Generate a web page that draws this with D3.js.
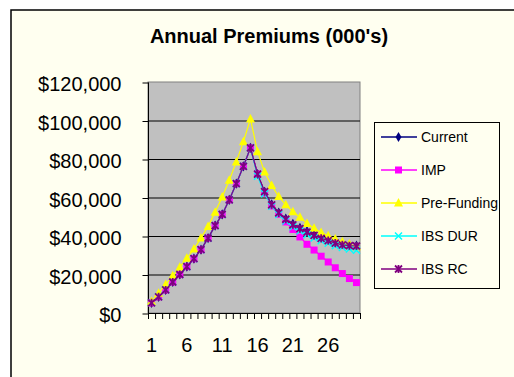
<!DOCTYPE html>
<html>
<head>
<meta charset="utf-8">
<script src="https://d3js.org/d3.v7.min.js"></script>
<style>
body { margin: 0; background: #fff; }
svg { display: block; font-family: "Liberation Sans", Arial, sans-serif; }
</style>
</head>
<body>
<svg id="chart" width="514" height="377"></svg>
<script>
// years 1..30
var categories = d3.range(1, 31);
var xLabels = [1, 6, 11, 16, 21, 26];
var yTicks = [0, 20000, 40000, 60000, 80000, 100000, 120000];

var current = [5300, 8400, 12000, 16100, 20000, 24100, 28200, 32900, 38900, 45400,
	51200, 58800, 67200, 76200, 85800, 72200, 63000, 56400, 52200, 49000,
	46300, 44300, 42500, 40800, 39200, 38000, 36600, 35700, 35200, 35000];
var imp = [5300, 8400, 12000, 16100, 20000, 24100, 28200, 32900, 38900, 45400,
	51200, 58800, 67200, 76200, 85800, 72200, 62300, 55600, 51300, 47300,
	43400, 39500, 35700, 32700, 29500, 26500, 23500, 20500, 17900, 15800];
var preFunding = [6000, 10300, 14800, 19300, 23800, 28500, 33200, 39000, 45000, 52400,
	60300, 69000, 78500, 89000, 100800, 83800, 73200, 66200, 60500, 56200,
	52600, 49700, 46500, 44000, 41800, 40100, 38400, 37000, 35800, 34400];
var ibsDur = [5300, 8400, 12000, 16100, 20000, 24100, 28200, 32900, 38900, 45400,
	51200, 58800, 67200, 76200, 85800, 71000, 62000, 55500, 51200, 47800,
	44800, 42600, 40700, 39000, 37500, 36200, 35000, 34000, 33200, 32600];
var ibsRc = [5300, 8400, 12000, 16100, 20000, 24100, 28200, 32900, 38900, 45400,
	51200, 58800, 67200, 76200, 85800, 72200, 63000, 56200, 52000, 48700,
	45800, 43800, 42000, 40300, 38800, 37600, 36300, 35400, 35000, 34800];

var seriesNames = ["Current", "IMP", "Pre-Funding", "IBS DUR", "IBS RC"];
var seriesValues = [current, imp, preFunding, ibsDur, ibsRc];
var colors = ["#000080", "#ff00ff", "#ffff00", "#00ffff", "#800080"];

var svg = d3.select("#chart");

// outer chart frame
svg.append("rect")
	.attr("x", 11).attr("y", 10)
	.attr("width", 600).attr("height", 500)
	.style("fill", "#fffff0")
	.style("stroke", "#000")
	.style("stroke-width", 1.5);

svg.append("text")
	.attr("x", 269).attr("y", 43)
	.attr("text-anchor", "middle")
	.style("font-size", "20px")
	.style("font-weight", "bold")
	.text("Annual Premiums (000's)");

var x = d3.scaleBand().domain(categories).range([148, 360]).padding(0);
var y = d3.scaleLinear().domain([0, 120000]).range([313, 82]);

// plot area
svg.append("rect")
	.attr("x", 148).attr("y", y(120000))
	.attr("width", 212).attr("height", y(0) - y(120000))
	.style("fill", "#c0c0c0")
	.style("stroke", "#808080")
	.style("stroke-width", 1);

svg.selectAll(".grid").data(yTicks.slice(1, -1))
	.enter()
	.append("line")
	.attr("x1", 148).attr("x2", 360)
	.attr("y1", function (d) { return y(d) + 0.5 })
	.attr("y2", function (d) { return y(d) + 0.5 })
	.style("stroke", "#000");

// y axis
var yAxis = svg.append("g")
	.attr("transform", "translate(148.5,0.5)")
	.call(d3.axisLeft(y).tickValues(yTicks).tickSize(6).tickPadding(21)
		.tickFormat(function (d) { return "$" + d3.format(",")(d) }));
yAxis.selectAll("text").style("font-size", "20px").style("fill", "#000").attr("dy", "0.4em");
yAxis.select(".domain").remove();
yAxis.append("line").attr("y1", y(0)).attr("y2", y(120000)).style("stroke", "#000");

// x axis: ticks between categories
svg.selectAll(".xtick").data(categories.concat([31]))
	.enter()
	.append("line")
	.attr("x1", function (d) { return (d <= 30 ? x(d) : 360) + 0.5 })
	.attr("x2", function (d) { return (d <= 30 ? x(d) : 360) + 0.5 })
	.attr("y1", 313).attr("y2", 319)
	.style("stroke", "#000");
svg.append("line")
	.attr("x1", 148).attr("x2", 360.5)
	.attr("y1", 313.5).attr("y2", 313.5)
	.style("stroke", "#000");

svg.selectAll(".xlab").data(xLabels)
	.enter()
	.append("text")
	.attr("x", function (d) { return x(d) + x.bandwidth() / 2 })
	.attr("y", 352)
	.attr("text-anchor", "middle")
	.style("font-size", "20px")
	.text(function (d) { return d });

// markers
function drawMarker(g, i, cx, cy) {
	var c = colors[i];
	if (i == 0) {
		g.append("path").attr("d", d3.symbol(d3.symbolDiamond, 30)())
			.attr("transform", "translate(" + cx + "," + cy + ")")
			.style("fill", c);
	} else if (i == 1) {
		g.append("rect").attr("x", cx - 3.5).attr("y", cy - 3.5)
			.attr("width", 7).attr("height", 7).style("fill", c);
	} else if (i == 2) {
		g.append("path").attr("d", "M0,-5L4.5,3.5L-4.5,3.5Z")
			.attr("transform", "translate(" + cx + "," + cy + ")")
			.style("fill", c);
	} else if (i == 3) {
		g.append("path").attr("d", "M-3.5,-3.5L3.5,3.5M-3.5,3.5L3.5,-3.5")
			.attr("transform", "translate(" + cx + "," + cy + ")")
			.style("stroke", c).style("stroke-width", 1.5);
	} else {
		g.append("path").attr("d", "M-3.5,-3.5L3.5,3.5M-3.5,3.5L3.5,-3.5M0,-4L0,4")
			.attr("transform", "translate(" + cx + "," + cy + ")")
			.style("stroke", c).style("stroke-width", 1.8);
	}
}

var line = d3.line()
	.x(function (d, i) { return x(categories[i]) + x.bandwidth() / 2 })
	.y(function (d) { return y(d) });

seriesValues.forEach(function (vals, i) {
	var g = svg.append("g");
	g.append("path").datum(vals)
		.attr("d", line)
		.style("fill", "none")
		.style("stroke", colors[i])
		.style("stroke-width", 1.2);
	vals.forEach(function (v, j) {
		drawMarker(g, i, x(categories[j]) + x.bandwidth() / 2, y(v));
	});
});

// legend
var legend = svg.append("g");
legend.append("rect")
	.attr("x", 374.5).attr("y", 122.5)
	.attr("width", 125).attr("height", 166)
	.style("fill", "#fffff0")
	.style("stroke", "#000");

seriesNames.forEach(function (name, i) {
	var ly = 137 + i * 33;
	legend.append("line")
		.attr("x1", 381).attr("x2", 417)
		.attr("y1", ly).attr("y2", ly)
		.style("stroke", colors[i]).style("stroke-width", 1.5);
	drawMarker(legend, i, 398.5, ly);
	legend.append("text")
		.attr("x", 421).attr("y", ly + 5)
		.style("font-size", "14px")
		.text(name);
});
</script>
</body>
</html>
